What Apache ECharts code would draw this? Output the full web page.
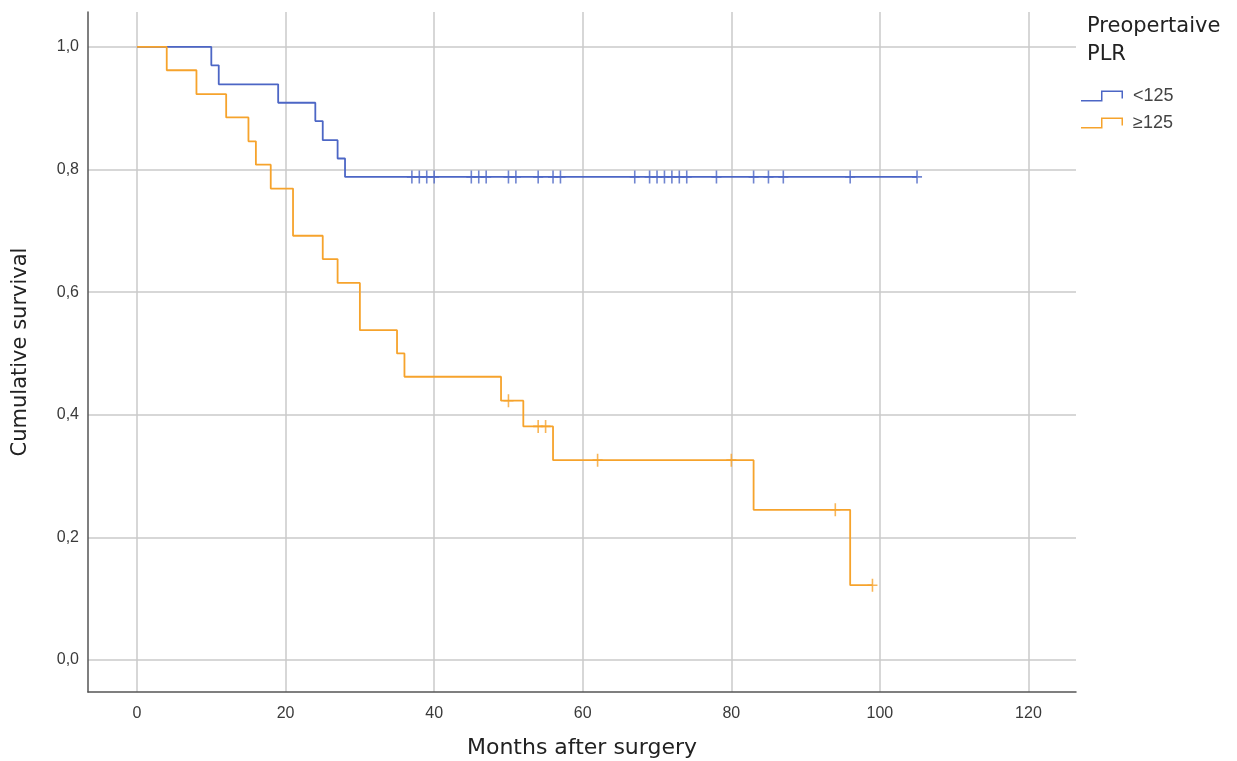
<!DOCTYPE html>
<html>
<head>
<meta charset="utf-8">
<script src="https://cdn.jsdelivr.net/npm/echarts@6/dist/echarts.min.js"></script>
<style>
html,body{margin:0;padding:0;background:#fff;}
#chart{width:1237px;height:761px;}
</style>
</head>
<body>
<div id="chart"></div>
<script>
// ---- data ----
var groupNames = ['<125', '\u2265125'];
var legendTitle = 'Preopertaive\nPLR';
var xTitle = 'Months after surgery';
var yTitle = 'Cumulative survival';

// Kaplan-Meier steps, group <125
var blueTimes = [0, 10, 11, 19, 24, 25, 27, 28, 105];
var blueSurv  = [1.000, 0.970, 0.939, 0.909, 0.879, 0.848, 0.818, 0.788, 0.788];
// censored observations, group <125
var blueCensorTimes = [37, 38, 39, 40, 45, 46, 47, 50, 51, 54, 56, 57, 67, 69, 70, 71, 72, 73, 74, 78, 83, 85, 87, 96, 105];
var blueCensorSurv  = [0.788, 0.788, 0.788, 0.788, 0.788, 0.788, 0.788, 0.788, 0.788, 0.788, 0.788, 0.788, 0.788,
                       0.788, 0.788, 0.788, 0.788, 0.788, 0.788, 0.788, 0.788, 0.788, 0.788, 0.788, 0.788];

// Kaplan-Meier steps, group >=125
var orangeTimes = [0, 4, 8, 12, 15, 16, 18, 21, 25, 27, 30, 35, 36, 49, 52, 56, 83, 96, 99];
var orangeSurv  = [1.000, 0.962, 0.923, 0.885, 0.846, 0.808, 0.769, 0.692, 0.654, 0.615, 0.538, 0.500, 0.462, 0.423, 0.381, 0.326, 0.245, 0.122, 0.122];
// censored observations, group >=125
var orangeCensorTimes = [50, 54, 55, 62, 80, 94, 99];
var orangeCensorSurv  = [0.423, 0.381, 0.381, 0.326, 0.326, 0.245, 0.122];

// ---- styling ----
var blue = '#4c66c5';
var orange = '#f6a32c';
var plusSymbol = 'path://M4.2,0h1.6v13h-1.6z M0,5.7h10v1.6h-10z';
var stepIcon = 'path://M0,9.5L20,9.5L20,0L42,0L42,8L40.5,8L40.5,1.5L21.5,1.5L21.5,11L0,11Z';

function zip(a, b) { return a.map(function (v, i) { return [v, b[i]]; }); }

var chart = echarts.init(document.getElementById('chart'), null, {renderer: 'canvas'});
chart.setOption({
  animation: false,
  backgroundColor: '#ffffff',
  grid: {left: 88, right: 161, top: 12, bottom: 69, containLabel: false, outerBoundsMode: 'none'},
  graphic: [{
    type: 'text', left: 1087, top: 13,
    style: {text: legendTitle, font: '21px "DejaVu Sans"', fill: '#222', lineHeight: 28}
  }],
  legend: {
    data: [
      {name: groupNames[0], icon: stepIcon},
      {name: groupNames[1], icon: stepIcon}
    ],
    orient: 'vertical', left: 1081, top: 87, padding: 0,
    itemWidth: 42, itemHeight: 11, itemGap: 9,
    textStyle: {fontFamily: 'Liberation Sans', fontSize: 18, color: '#444', padding: [0, 0, 0, 5]},
    selectedMode: false
  },
  xAxis: {
    type: 'value', min: -6.6, max: 126.4, minInterval: 20, maxInterval: 20,
    name: xTitle, nameLocation: 'middle', nameGap: 45,
    nameTextStyle: {fontFamily: 'DejaVu Sans', fontSize: 22, color: '#222'},
    axisLine: {show: true, onZero: false, lineStyle: {color: '#555', width: 1.5}},
    axisTick: {show: false},
    axisLabel: {showMinLabel: false, showMaxLabel: false, margin: 14,
      fontFamily: 'Liberation Sans', fontSize: 16, color: '#3a3a3a'},
    splitLine: {show: true, showMinLine: false, showMaxLine: false, lineStyle: {color: '#cacaca', width: 1.5}}
  },
  yAxis: {
    type: 'value', min: -0.0522, max: 1.057, minInterval: 0.2, maxInterval: 0.2,
    name: yTitle, nameLocation: 'middle', nameGap: 57, nameRotate: 90,
    nameTextStyle: {fontFamily: 'DejaVu Sans', fontSize: 21, color: '#222'},
    axisLine: {show: true, onZero: false, lineStyle: {color: '#555', width: 1.5}},
    axisTick: {show: false},
    axisLabel: {showMinLabel: false, showMaxLabel: false, margin: 9,
      fontFamily: 'Liberation Sans', fontSize: 16, color: '#3a3a3a',
      formatter: function (v) { return v.toFixed(1).replace('.', ','); }},
    splitLine: {show: true, showMinLine: false, showMaxLine: false, lineStyle: {color: '#cacaca', width: 1.5}}
  },
  series: [
    {
      name: groupNames[0], type: 'line', step: 'end', showSymbol: false, symbol: 'none',
      data: zip(blueTimes, blueSurv),
      lineStyle: {color: blue, width: 1.8}, itemStyle: {color: blue}, z: 3
    },
    {
      name: groupNames[0] + ' censored', type: 'scatter', symbol: plusSymbol, symbolSize: [10, 13],
      data: zip(blueCensorTimes, blueCensorSurv), itemStyle: {color: blue}, z: 4
    },
    {
      name: groupNames[1], type: 'line', step: 'end', showSymbol: false, symbol: 'none',
      data: zip(orangeTimes, orangeSurv),
      lineStyle: {color: orange, width: 1.8}, itemStyle: {color: orange}, z: 5
    },
    {
      name: groupNames[1] + ' censored', type: 'scatter', symbol: plusSymbol, symbolSize: [10, 13],
      data: zip(orangeCensorTimes, orangeCensorSurv), itemStyle: {color: orange}, z: 6
    }
  ]
});
</script>
</body>
</html>
